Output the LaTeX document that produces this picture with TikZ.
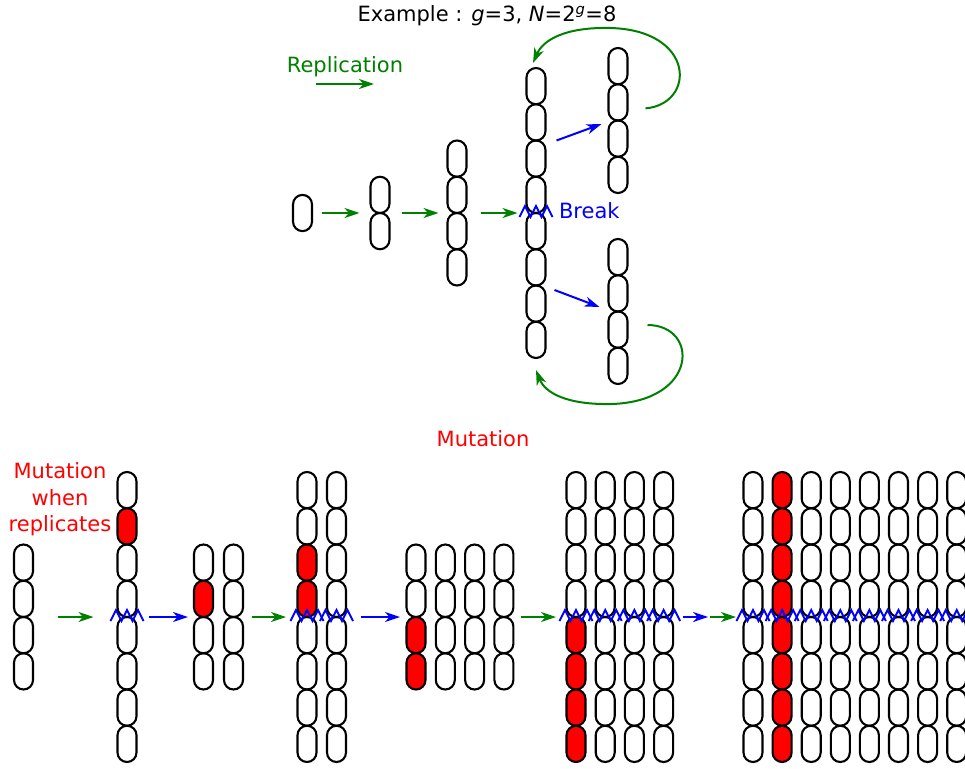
\documentclass[tikz,border=0pt]{standalone}
\usepackage{fontspec}
\setmainfont{DejaVu Sans}
\usepackage{xcolor}
\usetikzlibrary{arrows.meta}
\definecolor{repgreen}{RGB}{0,128,0}
\definecolor{brkblue}{RGB}{0,0,255}
\definecolor{mutred}{RGB}{255,0,0}
\begin{document}
\begin{tikzpicture}[x=1pt,y=1pt]
\tikzstyle{every node}+=[inner sep=0pt,outer sep=0pt]
\tikzstyle{cell}=[draw,black,line width=2.1pt,rounded corners=9.5pt,minimum width=19pt,minimum height=36.25pt]
\tikzstyle{mcell}=[cell,fill=mutred]
\tikzstyle{rep}=[draw=repgreen,line width=2pt,-{Stealth[length=15pt,width=10pt,inset=4.5pt]}]
\tikzstyle{cut}=[rep,draw=brkblue]
\tikzstyle{txt}=[font=\fontsize{21}{26.5}\selectfont]
\tikzset{brk/.pic={\draw[brkblue,line width=1.9pt] (-16.5,-4) -- (-11,7) -- (-5.5,-4) -- (0,7) -- (5.5,-4) -- (11,7) -- (16.5,-4);}}
\useasboundingbox (0,0) rectangle (965,-768);
\node[txt,anchor=base] (title) at (487,-22) {Example : \textit{g}=3, \textit{N}=2\textsuperscript{\textit{g}}=8};
\node[txt,anchor=base,text=repgreen] (reptext) at (345,-72) {Replication};
\coordinate (leg1) at (316,-84);
\coordinate (leg2) at (374,-84);
\draw[rep] (leg1) -- (leg2);
\node[cell] (one) at (302.5,-213) {};
\foreach \k in {1,2} \node[cell] (two\k) at (380,{-176.75-36.25*(\k-0.5)}) {};
\foreach \k in {1,...,4} \node[cell] (four\k) at (457,{-140.5-36.25*(\k-0.5)}) {};
\foreach \k in {1,...,8} \node[cell] (eight\k) at (536,{-68-36.25*(\k-0.5)}) {};
\foreach \k in {1,...,4} \node[cell] (up\k) at (618,{-48-36.25*(\k-0.5)}) {};
\foreach \k in {1,...,4} \node[cell] (lo\k) at (618,{-239-36.25*(\k-0.5)}) {};
\draw[rep] ([xshift=10pt]one.east) -- ([xshift=-11pt]two1.south west);
\draw[rep] ([xshift=12pt]two1.south east) -- ([xshift=-9pt]four2.south west);
\draw[rep] ([xshift=14pt]four2.south east) -- ([xshift=-9pt]eight4.south west);
\pic at (eight4.south) {brk};
\node[txt,anchor=base west,text=brkblue] (brktext) at (559,-218) {Break};
\draw[cut] ([xshift=11pt]eight2.south east) -- ([shift={(-7pt,-3.5pt)}]up3.north west);
\draw[cut] ([shift={(9pt,-4.5pt)}]eight7.north east) -- ([shift={(-9pt,4.5pt)}]lo2.south west);
\draw[rep] ([shift={(18pt,-6pt)}]up2.east) .. controls (696,-104) and (696,-30) .. (610,-28) .. controls (565,-27) and (543,-40) .. ([shift={(-3pt,5pt)}]eight1.north);
\draw[rep] ([shift={(20pt,4.6pt)}]lo3.east) .. controls (699,-325) and (699,-401) .. (612,-404) .. controls (567,-405) and (545,-393) .. ([yshift=-12pt]eight8.south);
\node[txt,anchor=base,text=mutred] (mut) at (483,-446) {Mutation};
\node[txt,anchor=north,align=center,text=mutred] (mutrep) at (60,-463) {Mutation\\when\\replicates};
\foreach \k in {1,...,4} \node[cell] (a\k) at (23.5,{-544.5-36.25*(\k-0.5)}) {};
\foreach \k in {1,3,4,5,6,7,8} \node[cell] (b\k) at (127,{-472-36.25*(\k-0.5)}) {};
\node[mcell] (b2) at (127,{-472-36.25*1.5}) {};
\foreach \k in {1,3,4} \node[cell] (c-1-\k) at (203.5,{-544.5-36.25*(\k-0.5)}) {};
\node[mcell] (c-1-2) at (203.5,{-544.5-36.25*1.5}) {};
\foreach \k in {1,...,4} \node[cell] (c-2-\k) at (233.5,{-544.5-36.25*(\k-0.5)}) {};
\foreach \k in {1,2,5,6,7,8} \node[cell] (d-1-\k) at (307,{-472-36.25*(\k-0.5)}) {};
\foreach \k in {3,4} \node[mcell] (d-1-\k) at (307,{-472-36.25*(\k-0.5)}) {};
\foreach \k in {1,...,8} \node[cell] (d-2-\k) at (336.5,{-472-36.25*(\k-0.5)}) {};
\foreach \k in {1,2} \node[cell] (e-1-\k) at (416,{-544.5-36.25*(\k-0.5)}) {};
\foreach \k in {3,4} \node[mcell] (e-1-\k) at (416,{-544.5-36.25*(\k-0.5)}) {};
\foreach \i in {2,...,4} \foreach \k in {1,...,4} \node[cell] (e-\i-\k) at ({416+29.3*(\i-1)},{-544.5-36.25*(\k-0.5)}) {};
\foreach \k in {1,...,4} \node[cell] (f-1-\k) at (576,{-472-36.25*(\k-0.5)}) {};
\foreach \k in {5,...,8} \node[mcell] (f-1-\k) at (576,{-472-36.25*(\k-0.5)}) {};
\foreach \i in {2,...,4} \foreach \k in {1,...,8} \node[cell] (f-\i-\k) at ({576+29.2*(\i-1)},{-472-36.25*(\k-0.5)}) {};
\foreach \k in {1,...,8} \node[mcell] (g-2-\k) at (782.1,{-472-36.25*(\k-0.5)}) {};
\foreach \i in {1,3,4,5,6,7,8} \foreach \k in {1,...,8} \node[cell] (g-\i-\k) at ({753+29.1*(\i-1)},{-472-36.25*(\k-0.5)}) {};
\pic at (b4.south) {brk};
\foreach \i in {1,2} \pic at (d-\i-4.south) {brk};
\foreach \i in {1,...,4} \pic at (f-\i-4.south) {brk};
\foreach \i in {1,...,8} \pic at (g-\i-4.south) {brk};
\draw[rep] ([xshift=25pt]a2.south east) -- ([xshift=-24pt]b4.south west);
\draw[cut] ([xshift=12.5pt]b4.south east) -- ([xshift=-6pt]c-1-2.south west);
\draw[rep] ([xshift=9pt]c-2-2.south east) -- ([xshift=-11.5pt]d-1-4.south west);
\draw[cut] ([xshift=15pt]d-2-4.south east) -- ([xshift=-6.5pt]e-1-2.south west);
\draw[rep] ([xshift=7.5pt]e-4-2.south east) -- ([xshift=-10.5pt]f-1-4.south west);
\coordinate (fg) at ([xshift=36pt]f-4-4.south east);
\draw[cut] ([xshift=10pt]f-4-4.south east) -- ([xshift=-1pt]fg);
\draw[rep] ([xshift=1pt]fg) -- ([xshift=-7.5pt]g-1-4.south west);
\end{tikzpicture}
\end{document}
